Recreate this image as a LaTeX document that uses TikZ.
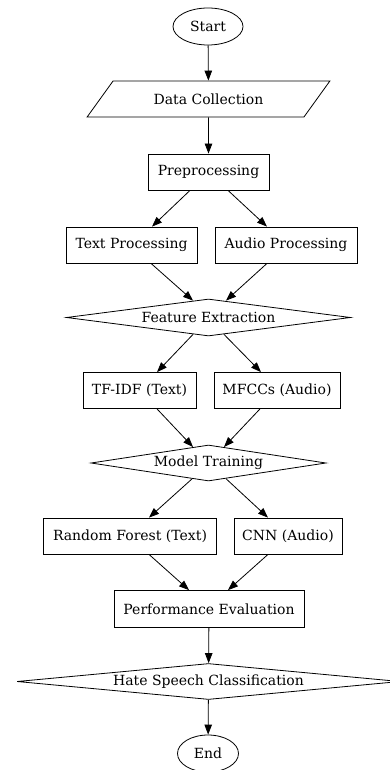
\documentclass[tikz,border=0pt]{standalone}
\usepackage{fontspec}
\setmainfont{DejaVu Serif}
\usetikzlibrary{arrows.meta,shapes.geometric,positioning}

\begin{document}
\begin{tikzpicture}[x=1pt, y=-1pt, line width=0.8pt,
    every node/.style={font=\fontsize{14}{16}\selectfont, inner sep=0pt},
    term/.style={draw, ellipse, minimum height=37pt},
    io/.style={draw, trapezium, trapezium left angle=36, trapezium right angle=144,
      trapezium stretches=true, minimum height=36pt},
    proc/.style={draw, rectangle, minimum height=36pt},
    dec/.style={draw, diamond, minimum height=36pt},
    flow/.style={-{Triangle[length=10pt,width=7.5pt]}}]
   \useasboundingbox (0,0) rectangle (390,770);
   \node[term, minimum width=70pt] (st) at (208,26.5) {Start};
   \node[io, minimum width=243pt] (dc) at (208.5,99) {Data Collection};
   \node[proc, minimum width=121pt] (pre) at (208.5,172) {Preprocessing};
   \node[proc, minimum width=131pt] (tp) at (131.5,245) {Text Processing};
   \node[proc, minimum width=142pt] (ap) at (286,245) {Audio Processing};
   \node[dec, shape aspect=7.7, minimum width=284pt, minimum height=37pt] (fe) at (208.5,317.5) {Feature Extraction};
   \node[proc, minimum width=113pt] (tf) at (139.5,390.5) {TF-IDF (Text)};
   \node[proc, minimum width=126pt] (mf) at (277,390.5) {MFCCs (Audio)};
   \node[dec, shape aspect=6.5, minimum width=235pt] (mt) at (208.5,463) {Model Training};
   \node[proc, minimum width=173pt] (rf) at (130,536) {Random Forest (Text)};
   \node[proc, minimum width=108pt] (cnn) at (288,536) {CNN (Audio)};
   \node[proc, minimum width=190pt, minimum height=37pt] (pe) at (209,609) {Performance Evaluation};
   \node[dec, shape aspect=10.6, minimum width=383pt] (hs) at (208.5,681.5) {Hate Speech Classification};
   \node[term, minimum width=61pt] (en) at (208,753.5) {End};

  \path[flow]
    (st) edge (dc)
    (dc) edge (pre)
    ([xshift=-18.5pt]pre.south) edge ([xshift=20.5pt]tp.north)
    ([xshift=19.5pt]pre.south) edge ([xshift=-19pt]ap.north)
    ([xshift=19.5pt]tp.south) edge ([xshift=-15.5pt,yshift=-2pt]fe.north)
    ([xshift=-19pt]ap.south) edge ([xshift=17.5pt,yshift=-2pt]fe.north)
    ([xshift=-15.5pt,yshift=2pt]fe.south) edge ([xshift=17.5pt]tf.north)
    ([xshift=15.5pt,yshift=2pt]fe.south) edge ([xshift=-16pt]mf.north)
    ([xshift=17.5pt]tf.south) edge ([xshift=-15.5pt,yshift=-2.4pt]mt.north)
    ([xshift=-17pt]mf.south) edge ([xshift=15.5pt,yshift=-2.4pt]mt.north)
    ([xshift=-16.5pt,yshift=2.5pt]mt.south) edge ([xshift=19pt]rf.north)
    ([xshift=17.5pt,yshift=2.7pt]mt.south) edge ([xshift=-20pt]cnn.north)
    ([xshift=19pt]rf.south) edge ([xshift=-20pt]pe.north)
    ([xshift=-20pt]cnn.south) edge ([xshift=19pt]pe.north)
    (pe) edge (hs)
    (hs) edge (en);
\end{tikzpicture}
\end{document}
